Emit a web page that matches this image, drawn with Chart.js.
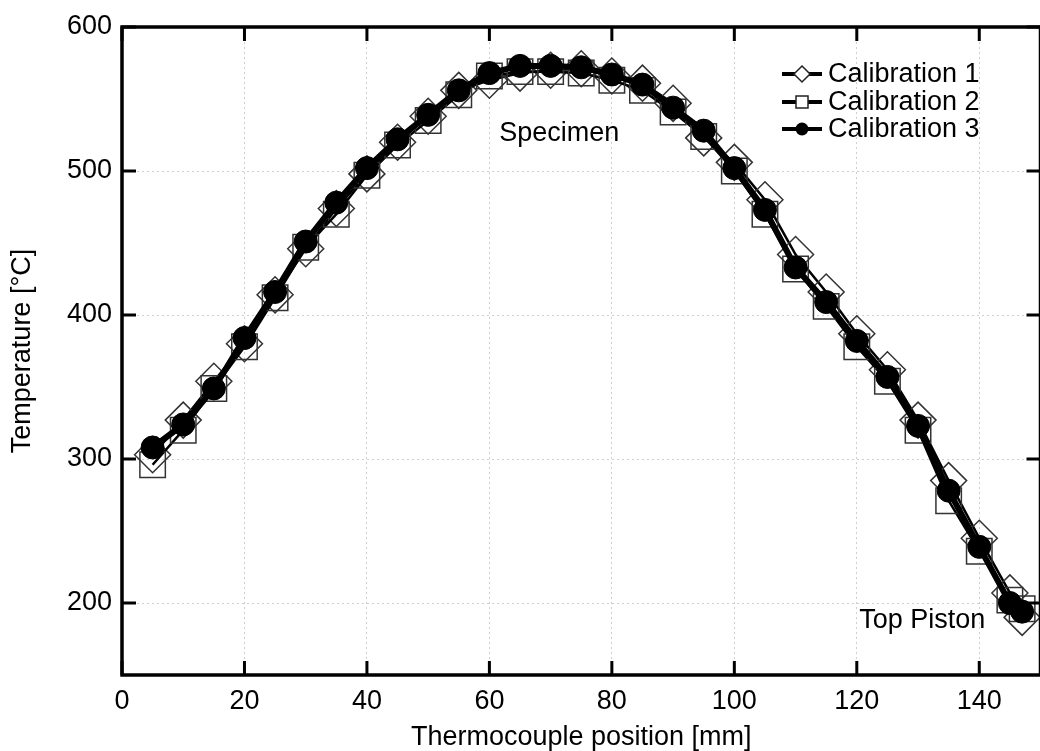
<!DOCTYPE html>
<html>
<head>
<meta charset="utf-8">
<script src="https://cdn.jsdelivr.net/npm/chart.js@4/dist/chart.umd.min.js"></script>
<style>
  body { margin: 0; overflow: hidden; background: #fff; }
</style>
</head>
<body>
<canvas id="chart1" width="1060" height="751"></canvas>
<script>
Chart.defaults.font.family = '"Liberation Sans", Arial, sans-serif'
Chart.defaults.color = '#000'

const positions = [5, 10, 15, 20, 25, 30, 35, 40, 45, 50, 55, 60, 65, 70, 75, 80, 85, 90, 95, 100, 105, 110, 115, 120, 125, 130, 135, 140, 145, 147]
const calib1 = [303, 327, 354, 380, 414, 446, 474, 498, 520, 538, 556, 563, 568, 570, 571, 566, 561, 547, 523, 506, 480, 442, 416, 387, 362, 327, 285, 245, 207, 190]
const calib2 = [296, 320, 349, 378, 412, 447, 470, 497, 518, 535, 553, 566, 569, 569, 568, 563, 556, 541, 524, 500, 470, 432, 406, 378, 354, 320, 271, 236, 202, 196]
const calib3 = [308, 324, 349, 384, 416, 451, 478, 502, 522, 539, 556, 568, 573, 573, 572, 567, 560, 544, 528, 502, 473, 433, 409, 382, 357, 323, 278, 239, 200, 194]

const xTicks = [0, 20, 40, 60, 80, 100, 120, 140]
const yTicks = [200, 300, 400, 500, 600]
const seriesNames = ['Calibration 1', 'Calibration 2', 'Calibration 3']

const FONT = '"Liberation Sans", Arial, sans-serif'

function pts(ys) {
    return positions.map((x, i) => ({ x, y: ys[i] }))
}

// frame with inward ticks, like the original plot
const framePlugin = {
    id: 'frame',
    afterDraw(chart) {
        const { ctx, chartArea: a, scales: { x, y } } = chart
        ctx.save()
        ctx.strokeStyle = '#000'
        ctx.lineWidth = 3
        const tl = 14
        ctx.beginPath()
        xTicks.forEach(v => {
            const px = x.getPixelForValue(v)
            ctx.moveTo(px, a.bottom); ctx.lineTo(px, a.bottom - tl)
            ctx.moveTo(px, a.top); ctx.lineTo(px, a.top + tl)
        })
        yTicks.forEach(v => {
            const py = y.getPixelForValue(v)
            ctx.moveTo(a.left, py); ctx.lineTo(a.left + tl, py)
            ctx.moveTo(a.right, py); ctx.lineTo(a.right - tl, py)
        })
        ctx.stroke()
        ctx.lineWidth = 3.5
        ctx.strokeRect(a.left, a.top, a.right - a.left, a.bottom - a.top)

        // text labels inside the plot
        ctx.fillStyle = '#000'
        ctx.font = '27px ' + FONT
        ctx.textAlign = 'center'
        ctx.textBaseline = 'middle'
        ctx.fillText('Specimen', x.getPixelForValue(71.4), y.getPixelForValue(526))
        ctx.fillText('Top Piston', x.getPixelForValue(130.7), y.getPixelForValue(188))

        // legend
        const rows = [74, 102, 129]
        const lx0 = 782, lx1 = 822, mx = 802
        rows.forEach((ry, i) => {
            ctx.strokeStyle = '#000'
            ctx.lineWidth = 4
            ctx.beginPath()
            ctx.moveTo(lx0, ry); ctx.lineTo(lx1, ry)
            ctx.stroke()
            ctx.lineWidth = 1.5
            ctx.strokeStyle = '#222'
            if (i === 0) {
                ctx.fillStyle = '#fff'
                ctx.beginPath()
                ctx.moveTo(mx, ry - 8); ctx.lineTo(mx + 8, ry); ctx.lineTo(mx, ry + 8); ctx.lineTo(mx - 8, ry); ctx.closePath()
                ctx.fill(); ctx.stroke()
            } else if (i === 1) {
                ctx.fillStyle = '#fff'
                ctx.fillRect(mx - 6, ry - 6, 12, 12)
                ctx.strokeRect(mx - 6, ry - 6, 12, 12)
            } else {
                ctx.fillStyle = '#000'
                ctx.beginPath()
                ctx.arc(mx, ry, 6.5, 0, Math.PI * 2)
                ctx.fill()
            }
            ctx.fillStyle = '#000'
            ctx.font = '27px ' + FONT
            ctx.textAlign = 'left'
            ctx.fillText(seriesNames[i], 828, ry + 1)
        })
        ctx.restore()
    }
}

const data = {
    datasets: [
        {
            label: seriesNames[2],
            data: pts(calib3),
            order: 0,
            borderColor: '#000',
            borderWidth: 6,
            pointStyle: 'circle',
            pointRadius: 11.5,
            pointBackgroundColor: '#000',
            pointBorderColor: '#000',
            pointBorderWidth: 1
        },
        {
            label: seriesNames[1],
            data: pts(calib2),
            order: 1,
            borderColor: '#000',
            borderWidth: 2.5,
            pointStyle: 'rect',
            pointRadius: 18,
            pointBackgroundColor: 'rgba(0,0,0,0)',
            pointBorderColor: '#333',
            pointBorderWidth: 1.5
        },
        {
            label: seriesNames[0],
            data: pts(calib1),
            order: 2,
            borderColor: '#000',
            borderWidth: 2.5,
            pointStyle: 'rectRot',
            pointRadius: 18,
            pointBackgroundColor: 'rgba(0,0,0,0)',
            pointBorderColor: '#333',
            pointBorderWidth: 1.5
        }
    ]
}

const options = {
    responsive: false,
    animation: false,
    layout: { padding: { top: 27, right: 11, left: 0, bottom: 0 } },
    plugins: {
        legend: { display: false },
        tooltip: { enabled: false }
    },
    scales: {
        x: {
            type: 'linear',
            min: 0,
            max: 150,
            afterBuildTicks: axis => { axis.ticks = xTicks.map(value => ({ value })) },
            afterFit: scale => { scale.height = 76 },
            grid: { color: '#cfcfcf', lineWidth: 1, drawTicks: false },
            border: { display: false, dash: [2, 3] },
            ticks: { padding: 10, font: { size: 27 }, maxRotation: 0 },
            title: { display: true, text: 'Thermocouple position [mm]', font: { size: 27 }, padding: { top: 2, bottom: -3 } }
        },
        y: {
            min: 150,
            max: 600,
            afterBuildTicks: axis => { axis.ticks = yTicks.map(value => ({ value })) },
            afterFit: scale => { scale.width = 122 },
            grid: { color: '#cfcfcf', lineWidth: 1, drawTicks: false },
            border: { display: false, dash: [2, 3] },
            ticks: { padding: 10, font: { size: 27 } },
            title: { display: true, text: 'Temperature [°C]', font: { size: 27 }, padding: { top: 6, bottom: 0 } }
        }
    }
}

new Chart('chart1', { type: 'line', data, options, plugins: [framePlugin] })
</script>
</body>
</html>
